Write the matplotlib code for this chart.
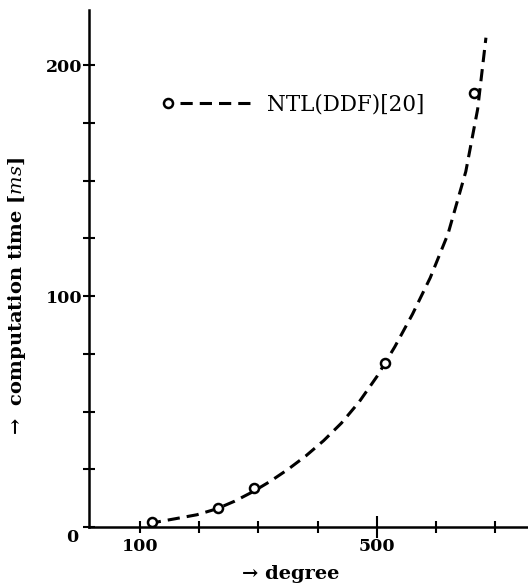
"""
Computation time vs. degree - NTL(DDF)[20] measurements with fitted curve
"""

import matplotlib
matplotlib.use("Agg")
import matplotlib.pyplot as plt
from matplotlib.lines import Line2D
from matplotlib.legend_handler import HandlerBase
from matplotlib.transforms import ScaledTranslation

degree = [120, 232, 292, 514, 664]
time_ms = [2.2, 8.2, 16.9, 71, 188]

# fitted curve
curve_degree = [115, 134, 160, 196, 230, 260, 290, 320, 350, 380, 410, 440,
                470, 500, 530, 560, 590, 620, 650, 670, 684]
curve_time = [1.4, 2.4, 3.6, 5.3, 7.9, 11.2, 15.2, 19.8, 25.0, 30.8, 37.4, 45.0,
              54.2, 65.2, 78.0, 92.2, 108, 127, 154, 181, 212]

x_ticks = [100, 200, 300, 400, 500, 600, 700]
x_labels = [100, 500]
y_ticks = [0, 25, 50, 75, 100, 125, 150, 175, 200]
y_labels = [0, 100, 200]
series_name = "NTL(DDF)[20]"

plt.rcParams["font.family"] = ["DejaVu Serif"]
plt.rcParams["mathtext.fontset"] = "dejavuserif"

DASH = (0, (4, 2.3))


class MarkerThenDash(HandlerBase):
    # legend entry: open circle on the left, dashes to the right
    def create_artists(self, legend, orig_handle, xdescent, ydescent,
                       width, height, fontsize, trans):
        y = height / 2 - ydescent
        x0 = -xdescent
        dash = Line2D([x0 + 0.15 * width, x0 + width], [y, y], color="black",
                      lw=2.2, linestyle=DASH)
        mk = Line2D([x0], [y], marker="o", ms=6.5, mfc="white", mec="black",
                    mew=1.8, ls="none")
        dash.set_transform(trans)
        mk.set_transform(trans)
        return [dash, mk]


fig = plt.figure(figsize=(5.28, 5.87), dpi=100)
ax = fig.add_axes([89 / 528, 1 - 527 / 587, 1 - 89 / 528, 517 / 587])

ax.plot(curve_degree, curve_time, color="black", lw=2.2, linestyle=DASH,
        dash_capstyle="butt")
pts, = ax.plot(degree, time_ms, "o", ms=6.5, mfc="white", mec="black",
               mew=1.8, zorder=3)

ax.set_xlim(14, 755)
ax.set_ylim(0, 224)

for s in ["top", "right"]:
    ax.spines[s].set_visible(False)
for s in ["left", "bottom"]:
    ax.spines[s].set_linewidth(1.8)

ax.set_xticks(x_ticks, minor=True)
ax.set_xticks(x_labels)
ax.set_xticklabels([str(v) for v in x_labels])
ax.set_yticks(y_ticks, minor=True)
ax.set_yticks(y_labels)
ax.set_yticklabels([str(v) for v in y_labels])

ax.tick_params(which="both", direction="inout", width=1.5, length=8)
ax.tick_params(axis="x", which="major", pad=4, labelsize=12.5)
ax.tick_params(axis="y", which="major", pad=1, labelsize=12.5)
for lbl in ax.get_xticklabels() + ax.get_yticklabels():
    lbl.set_fontweight("bold")

# taller tick at 500, label "0" sits a bit low
ax.xaxis.get_major_ticks()[1].tick1line.set_markersize(16)
zero = ax.get_yticklabels()[0]
zero.set_transform(zero.get_transform() + ScaledTranslation(-4 / 100, -8 / 100, fig.dpi_scale_trans))

ax.set_xlabel("→ degree", fontsize=14, fontweight="bold")
ax.xaxis.set_label_coords((291 - 89) / 439, -0.074)
ax.set_ylabel(r"→  computation time [$\mathit{ms}$]", fontsize=14,
              fontweight="bold")
ax.yaxis.set_label_coords(-0.139, 0.447)

ax.legend([pts], [series_name], handler_map={pts: MarkerThenDash()},
          loc="center left", bbox_to_anchor=((168 - 89) / 439, (527 - 105) / 517),
          frameon=False, borderpad=0, borderaxespad=0, handlelength=3.8,
          handletextpad=0.8, fontsize=15.5)

plt.savefig("out.png", dpi=100)
plt.close()
